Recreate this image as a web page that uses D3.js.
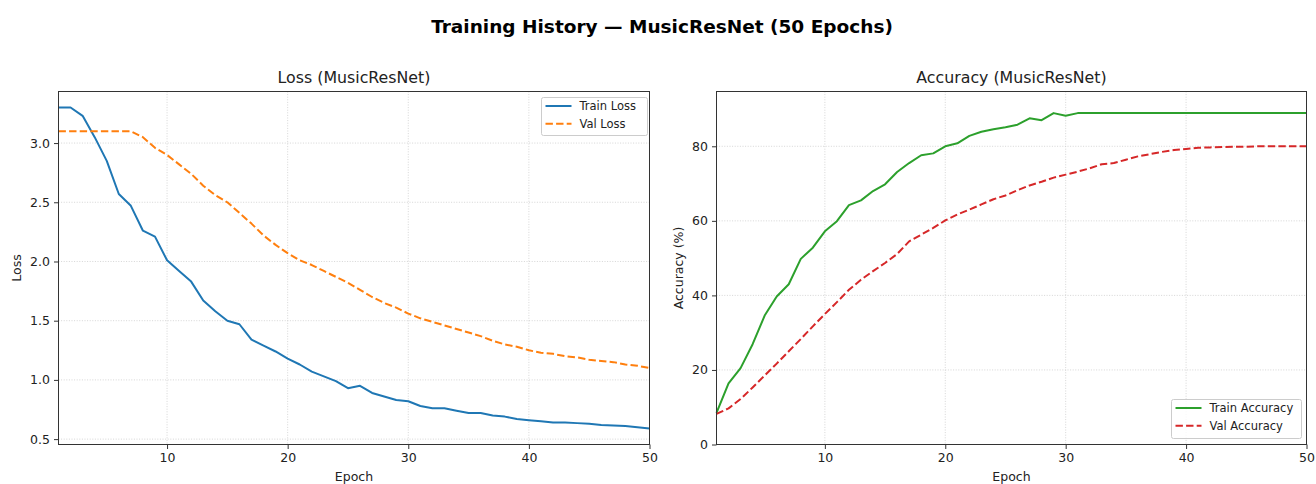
<!DOCTYPE html>
<html>
<head>
<meta charset="utf-8">
<script src="https://cdn.jsdelivr.net/npm/d3@7"></script>
<style>
  body { margin: 0; background: #fff; }
  svg text { font-family: "DejaVu Sans", sans-serif; fill: #222; }
</style>
</head>
<body>
<div id="chart"></div>
<script>
// Data
const epochs = d3.range(1, 51);

const trainLoss = [3.30, 3.30, 3.23, 3.05, 2.85, 2.57, 2.47, 2.26, 2.21, 2.01,
                   1.92, 1.83, 1.67, 1.58, 1.50, 1.47, 1.34, 1.29, 1.24, 1.18,
                   1.13, 1.07, 1.03, 0.99, 0.93, 0.95, 0.89, 0.86, 0.83, 0.82,
                   0.78, 0.76, 0.76, 0.74, 0.72, 0.72, 0.70, 0.69, 0.67, 0.66,
                   0.65, 0.64, 0.64, 0.635, 0.63, 0.62, 0.615, 0.61, 0.60, 0.59];

const valLoss = [3.10, 3.10, 3.10, 3.10, 3.10, 3.10, 3.10, 3.05, 2.96, 2.90,
                 2.82, 2.74, 2.64, 2.56, 2.50, 2.41, 2.32, 2.22, 2.14, 2.07,
                 2.01, 1.97, 1.92, 1.87, 1.82, 1.76, 1.70, 1.65, 1.61, 1.56,
                 1.52, 1.49, 1.46, 1.43, 1.40, 1.37, 1.33, 1.30, 1.28, 1.25,
                 1.23, 1.22, 1.20, 1.19, 1.17, 1.16, 1.15, 1.13, 1.12, 1.10];

const trainAcc = [8.5, 16.4, 20.5, 26.9, 34.6, 39.7, 43.0, 49.8, 52.8, 57.2,
                  59.9, 64.2, 65.5, 68.0, 69.8, 73.1, 75.5, 77.6, 78.1, 80.0,
                  80.8, 82.8, 83.9, 84.6, 85.1, 85.8, 87.5, 87.0, 88.9, 88.2,
                  88.9, 88.9, 88.9, 88.9, 88.9, 88.9, 88.9, 88.9, 88.9, 88.9,
                  88.9, 88.9, 88.9, 88.9, 88.9, 88.9, 88.9, 88.9, 88.9, 88.9];

const valAcc = [8.2, 9.7, 12.2, 15.3, 18.5, 21.7, 25.0, 28.3, 31.7, 35.0,
                38.2, 41.5, 44.2, 46.5, 48.7, 51.1, 54.5, 56.3, 58.1, 60.1,
                61.7, 63.0, 64.4, 65.8, 66.8, 68.2, 69.5, 70.5, 71.6, 72.4,
                73.2, 74.1, 75.2, 75.5, 76.4, 77.3, 77.9, 78.5, 79.0, 79.3,
                79.6, 79.7, 79.8, 79.9, 79.9, 80.0, 80.0, 80.0, 80.0, 80.0];

const xTicks = [10, 20, 30, 40, 50];
const lossTicks = [0.5, 1.0, 1.5, 2.0, 2.5, 3.0];
const accTicks = [0, 20, 40, 60, 80];

const W = 1316, H = 484;

const svg = d3.select("#chart")
    .append("svg")
    .attr("width", W)
    .attr("height", H);

// Figure title
svg.append("text")
    .attr("x", 662)
    .attr("y", 33)
    .attr("text-anchor", "middle")
    .style("font-size", "18.5px")
    .style("font-weight", "bold")
    .style("fill", "#000")
    .text("Training History — MusicResNet (50 Epochs)");

function drawPanel(opts) {
    const { left, right, top, bottom, yDomain, yTicks, yFormat, series, title, yLabel, yLabelX, legend } = opts;

    const x = d3.scaleLinear().domain([1, 50]).range([left, right]);
    const y = d3.scaleLinear().domain(yDomain).range([bottom, top]);

    const g = svg.append("g");

    // grid
    g.selectAll(".gx").data(xTicks).enter().append("line")
        .attr("x1", d => x(d)).attr("x2", d => x(d))
        .attr("y1", top).attr("y2", bottom)
        .attr("stroke", "#ccc").attr("stroke-width", 0.8)
        .attr("stroke-dasharray", "1,1.6");
    g.selectAll(".gy").data(yTicks).enter().append("line")
        .attr("x1", left).attr("x2", right)
        .attr("y1", d => y(d)).attr("y2", d => y(d))
        .attr("stroke", "#ccc").attr("stroke-width", 0.8)
        .attr("stroke-dasharray", "1,1.6");

    // lines
    const line = d3.line().x((d, i) => x(epochs[i])).y(d => y(d));
    series.forEach(s => {
        g.append("path")
            .datum(s.values)
            .attr("fill", "none")
            .attr("stroke", s.color)
            .attr("stroke-width", 2)
            .attr("stroke-linejoin", "round")
            .attr("stroke-dasharray", s.dashed ? "7.4,3.2" : null)
            .attr("d", line);
    });

    // axes
    const xAxis = g.append("g")
        .attr("transform", `translate(0,${bottom})`)
        .call(d3.axisBottom(x).tickValues(xTicks).tickSize(4.5).tickPadding(4));
    const yAxis = g.append("g")
        .attr("transform", `translate(${left},0)`)
        .call(d3.axisLeft(y).tickValues(yTicks).tickFormat(yFormat).tickSize(4.5).tickPadding(4));
    [xAxis, yAxis].forEach(a => {
        a.select(".domain").remove();
        a.selectAll("line").attr("stroke", "#333");
        a.selectAll("text").style("font-size", "12.5px").style("font-family", "DejaVu Sans").attr("fill", "#222");
    });

    // frame
    g.append("rect")
        .attr("x", left).attr("y", top)
        .attr("width", right - left).attr("height", bottom - top)
        .attr("fill", "none").attr("stroke", "#333").attr("stroke-width", 1);

    // titles
    g.append("text")
        .attr("x", (left + right) / 2).attr("y", 83)
        .attr("text-anchor", "middle")
        .style("font-size", "15.8px")
        .text(title);

    g.append("text")
        .attr("x", (left + right) / 2).attr("y", 480.5)
        .attr("text-anchor", "middle")
        .style("font-size", "12.5px")
        .text("Epoch");

    g.append("text")
        .attr("transform", `translate(${yLabelX},${(top + bottom) / 2}) rotate(-90)`)
        .attr("text-anchor", "middle")
        .style("font-size", "12.5px")
        .text(yLabel);

    // legend
    const lg = g.append("g");
    lg.append("rect")
        .attr("x", legend.x).attr("y", legend.y)
        .attr("width", legend.w).attr("height", legend.h)
        .attr("rx", 2)
        .attr("fill", "#fff").attr("fill-opacity", 0.8)
        .attr("stroke", "#ccc");
    series.forEach((s, i) => {
        const yy = legend.y + 8.5 + i * 17.8;
        lg.append("line")
            .attr("x1", legend.x + 4).attr("x2", legend.x + 30)
            .attr("y1", yy).attr("y2", yy)
            .attr("stroke", s.color).attr("stroke-width", 2)
            .attr("stroke-dasharray", s.dashed ? "7.4,3.2" : null);
        lg.append("text")
            .attr("x", legend.x + 38).attr("y", yy + 4)
            .style("font-size", "11.5px")
            .text(s.name);
    });
}

drawPanel({
    left: 58.5, right: 649.5, top: 91.5, bottom: 444.5,
    yDomain: [0.4545, 3.4355],
    yTicks: lossTicks,
    yFormat: d3.format(".1f"),
    title: "Loss (MusicResNet)",
    yLabel: "Loss",
    yLabelX: 21,
    series: [
        { name: "Train Loss", values: trainLoss, color: "#1f77b4", dashed: false },
        { name: "Val Loss", values: valLoss, color: "#ff7f0e", dashed: true }
    ],
    legend: { x: 541.5, y: 97.5, w: 106, h: 38 }
});

drawPanel({
    left: 716.5, right: 1306.5, top: 91.5, bottom: 444.5,
    yDomain: [0, 94.7],
    yTicks: accTicks,
    yFormat: d3.format("d"),
    title: "Accuracy (MusicResNet)",
    yLabel: "Accuracy (%)",
    yLabelX: 683,
    series: [
        { name: "Train Accuracy", values: trainAcc, color: "#2ca02c", dashed: false },
        { name: "Val Accuracy", values: valAcc, color: "#d62728", dashed: true }
    ],
    legend: { x: 1171.5, y: 399.5, w: 130, h: 39 }
});
</script>
</body>
</html>
